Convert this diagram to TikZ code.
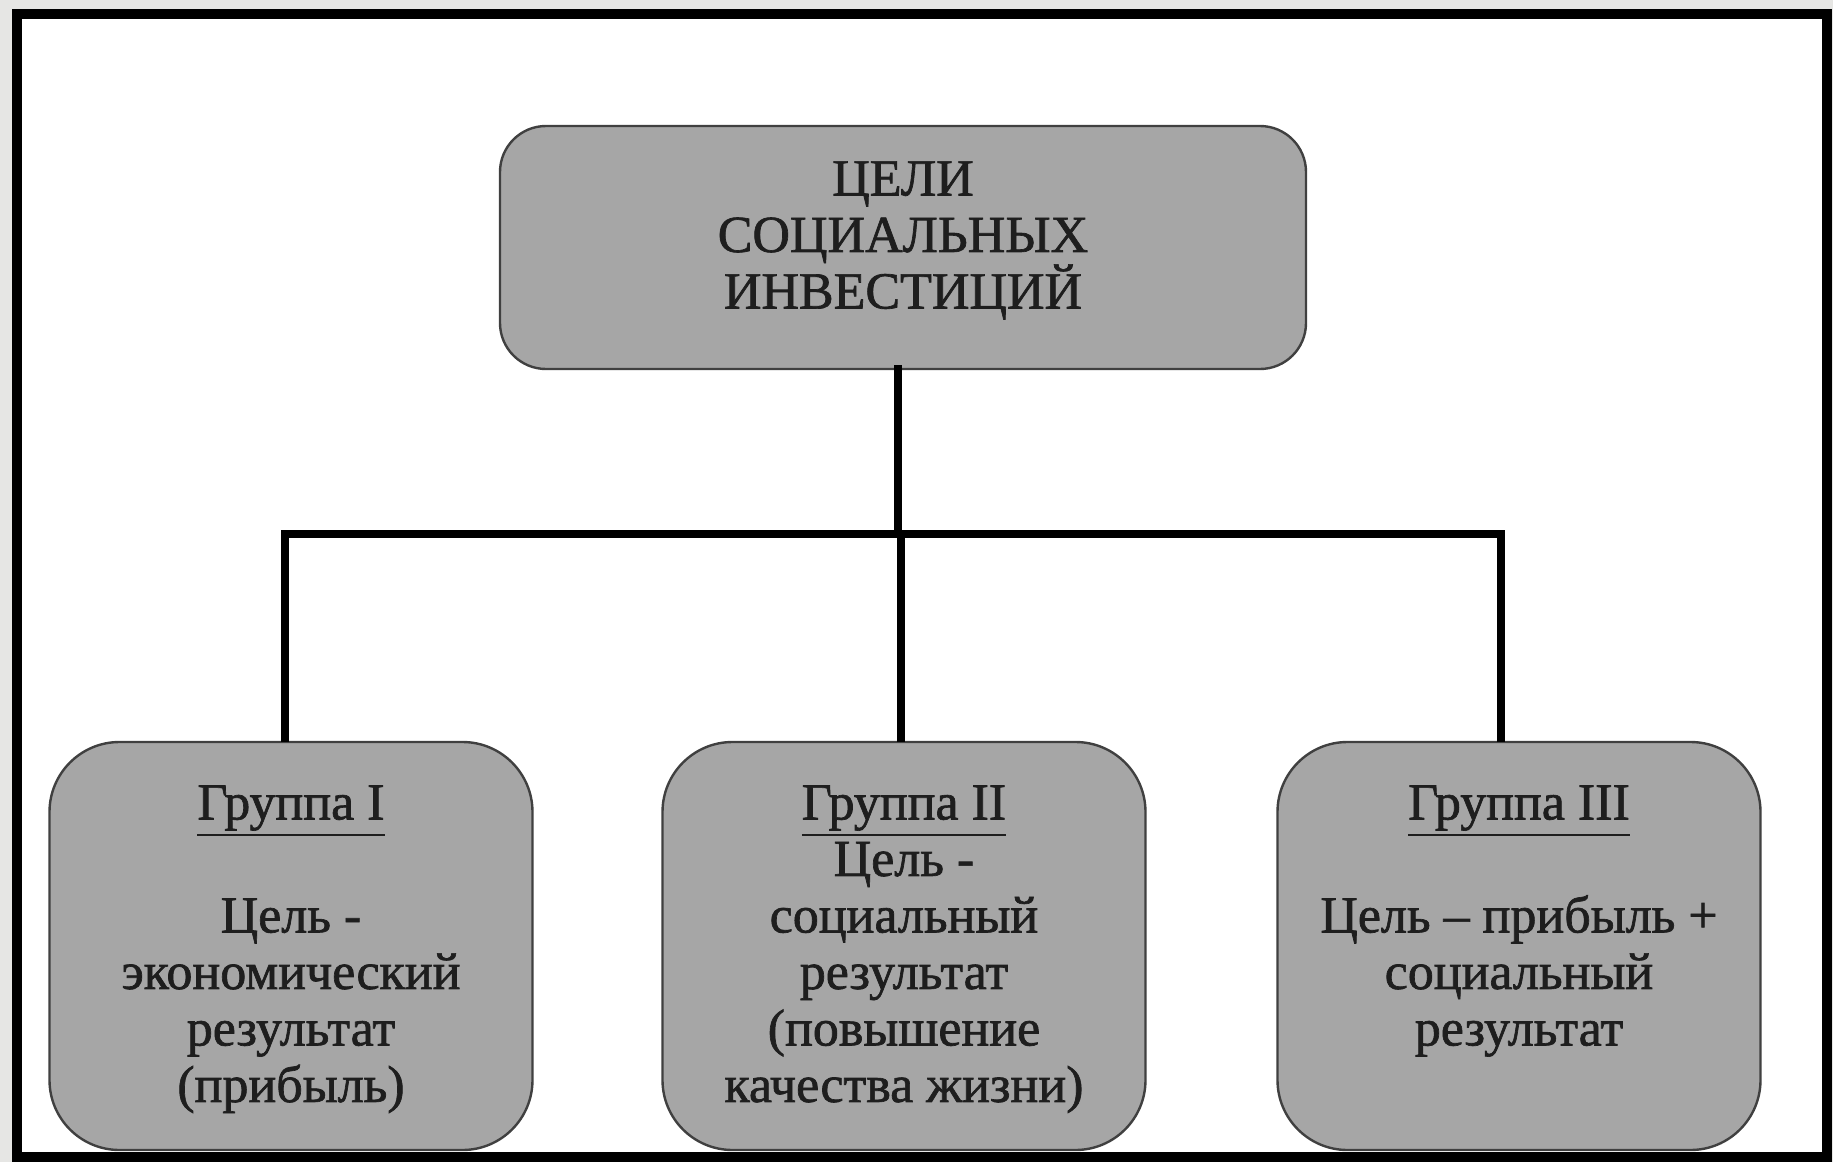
\documentclass[tikz,border=0pt]{standalone}
\usepackage{fontspec}
\setmainfont{Liberation Serif}
\newfontfamily\heavyserif[FakeBold=1.3]{Liberation Serif}
\definecolor{boxgray}{HTML}{A6A6A6}
\definecolor{bggray}{HTML}{E6E6E4}
\definecolor{txt}{HTML}{1E1E1E}
\newcommand\grpline[1]{\vtop{\hbox{#1}\kern1.6pt\hrule height 1.3pt}}
\begin{document}
\begin{tikzpicture}[x=0.5pt,y=-0.5pt,
  box/.style={draw=black!75, line width=1.2pt, fill=boxgray, rectangle,
    inner sep=0pt, outer sep=0pt},
  topbox/.style={box, rounded corners=23pt, minimum width=403pt, minimum height=121.5pt},
  lowbox/.style={box, rounded corners=35pt, minimum width=241.5pt, minimum height=204pt},
  label/.style={anchor=north, inner sep=0pt, align=center, text=txt,
    font=\heavyserif\fontsize{26}{28.25}\selectfont},
  link/.style={line width=4pt, line cap=rect}]
\useasboundingbox (0,0) rectangle (1833,1162);
\fill[bggray] (0,0) rectangle (1833,1162);
\draw[line width=5pt, fill=white] (17,14) rectangle (1827,1157);

\node[topbox] (top) at (903,247.5) {};
\node[label] (toptext) at (903,161) {ЦЕЛИ\\СОЦИАЛЬНЫХ\\ИНВЕСТИЦИЙ};

\node[lowbox] (g1) at (291,946) {};
\node[lowbox] (g2) at (904,946) {};
\node[lowbox] (g3) at (1519,946) {};

\node[label] (t1) at (291,785) {\grpline{Группа I}\\ \mbox{}\\ Цель -\\ экономический\\ результат\\ (прибыль)};
\node[label] (t2) at (904,785) {\grpline{Группа II}\\ Цель -\\ социальный\\ результат\\ (повышение\\ качества жизни)};
\node[label] (t3) at (1519,785) {\grpline{Группа III}\\ \mbox{}\\ Цель – прибыль +\\ социальный\\ результат};

\coordinate (hub) at (898,534);
\coordinate (jl) at (285,534);
\coordinate (jm) at (901,534);
\coordinate (jr) at (1501,534);

\draw[link] (top.south -| hub) -- (hub);
\draw[link] (jl) -- (jr);
\draw[link, line cap=butt] (jl) -- (jl |- g1.north);
\draw[link, line cap=butt] (jm) -- (jm |- g2.north);
\draw[link, line cap=butt] (jr) -- (jr |- g3.north);
\end{tikzpicture}
\end{document}
